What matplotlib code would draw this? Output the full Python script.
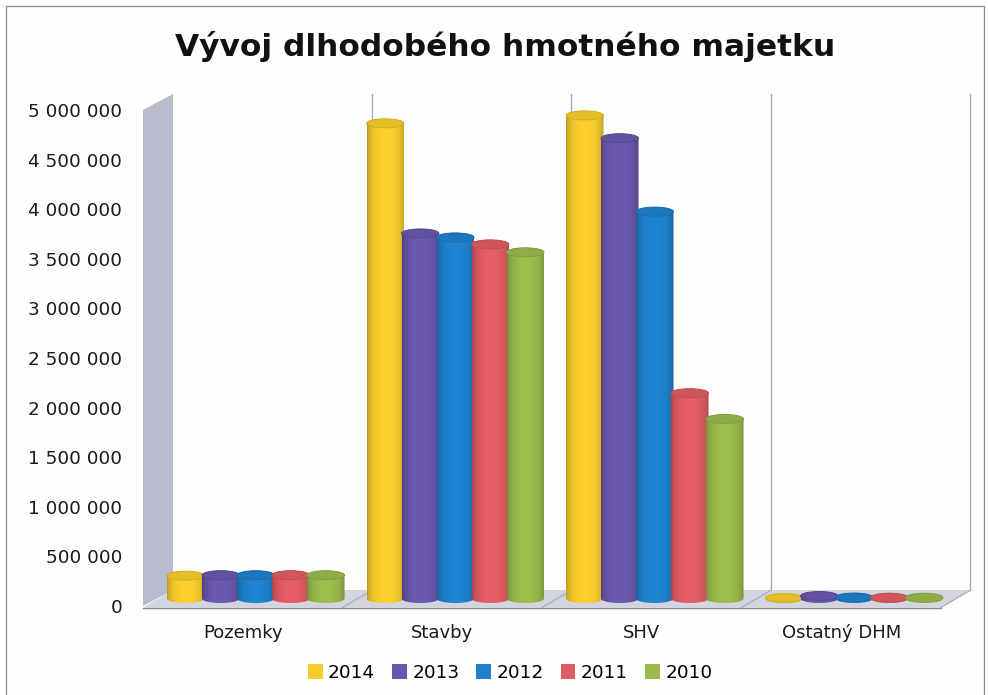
import numpy as np
import matplotlib
matplotlib.use("Agg")
import matplotlib.pyplot as plt
from matplotlib.patches import Polygon, Ellipse, Patch, Rectangle
from matplotlib.transforms import Affine2D

categories = ["Pozemky", "Stavby", "SHV", "Ostatný DHM"]
years = ["2014", "2013", "2012", "2011", "2010"]
v2014 = [230000, 4790000, 4870000, 5000]
v2013 = [235000, 3680000, 4640000, 25000]
v2012 = [235000, 3640000, 3900000, 10000]
v2011 = [235000, 3570000, 2070000, 8000]
v2010 = [235000, 3490000, 1810000, 8000]
series = [v2014, v2013, v2012, v2011, v2010]
colors = ["#F6CB2C", "#6A56AC", "#1E80CC", "#E05C62", "#9ABA4C"]
yticks = [0, 500000, 1000000, 1500000, 2000000, 2500000, 3000000, 3500000, 4000000, 4500000, 5000000]
ylabels = ["0", "500 000", "1 000 000", "1 500 000", "2 000 000", "2 500 000",
           "3 000 000", "3 500 000", "4 000 000", "4 500 000", "5 000 000"]
TITLE = "Vývoj dlhodobého hmotného majetku"

W, H = 988, 695
fig = plt.figure(figsize=(W / 100, H / 100), dpi=100, facecolor="#FEFEFE")
ax = fig.add_axes([143 / W, (H - 606) / H, 798 / W, 496 / H])
ax.set_xlim(-0.5, 3.5)
ax.set_ylim(0, 5000000)
ax.set_autoscale_on(False)
ax.patch.set_alpha(0)
for s in ax.spines.values():
    s.set_visible(False)

back = ax.transData + Affine2D().translate(30, 16)
mid = ax.transData + Affine2D().translate(13, 7.5)
front_low = ax.transData + Affine2D().translate(0, -1.5)

wallc, floorc, gridc = "#B7BBCB", "#D2D5E0", "#A0A5B5"
ax.add_patch(Polygon(
    np.vstack([ax.transData.transform([(-0.5, 0), (-0.5, 5000000)]),
               back.transform([(-0.5, 5000000), (-0.5, 0)])]),
    closed=True, transform=None, facecolor=wallc, edgecolor="none", clip_on=False, zorder=1))
ax.add_patch(Polygon(
    np.vstack([front_low.transform([(-0.5, 0), (3.5, 0)]),
               back.transform([(3.5, 0), (-0.5, 0)])]),
    closed=True, transform=None, facecolor=floorc, edgecolor="none", clip_on=False, zorder=1))
for bx in [0.5, 1.5, 2.5, 3.5]:
    ax.plot([bx - 0.004, bx - 0.004], [0, 5000000], transform=back, color=gridc, lw=0.9, clip_on=False, zorder=1.5)
    p = np.vstack([front_low.transform([(bx, 0)]), back.transform([(bx, 0)])])
    ax.plot(p[:, 0], p[:, 1], transform=None, color="#A5A9B8", lw=0.8, clip_on=False, zorder=1.5)
ax.plot([-0.5, 3.5], [0, 0], transform=front_low, color="#85878E", lw=1.0, clip_on=False, zorder=1.6)

px_x = 199.5
bw = 37.5 / px_x
pitch = 35 / px_x
eh = 9 * 5000000 / 496
t = np.linspace(0, np.pi, 40)
xg = np.linspace(-1, 1, 128)
shade = 0.72 + 0.31 * np.clip(1 - xg ** 2, 0, 1) ** 0.5
z = 3
for i, (vals, col) in enumerate(zip(series, colors)):
    rgb = np.array(matplotlib.colors.to_rgb(col))
    grad = np.clip(rgb[None, None, :] * shade[None, :, None], 0, 1)
    for c, v in enumerate(vals):
        x = c + (i - 2) * pitch
        bx = x + bw / 2 * np.cos(t)
        by = -eh / 2 * np.sin(t)
        outline = np.column_stack([np.r_[bx[::-1], bx],
                                   np.r_[by[::-1], v + eh / 2 * np.sin(t)]])
        shape = Polygon(outline, closed=True, transform=mid)
        im = ax.imshow(grad, extent=(x - bw / 2, x + bw / 2, -eh, v + eh), aspect="auto",
                       transform=mid, zorder=z, interpolation="bilinear", clip_on=True)
        im.set_clip_path(shape)
        ax.add_patch(Ellipse((x, v), bw, eh, transform=mid, facecolor=rgb * 0.93,
                             edgecolor=rgb * 0.85, lw=0.7, clip_on=False, zorder=z + 0.1))
        z += 0.2
ax.set_xlim(-0.5, 3.5)
ax.set_ylim(0, 5000000)

ax.set_xticks(range(4), categories)
ax.set_yticks(yticks, ylabels)
ax.tick_params(axis="both", length=0, labelcolor="#1A1A1A")
ax.tick_params(axis="y", pad=15, labelsize=13.2)
ax.tick_params(axis="x", pad=13, labelsize=13)

fig.text(505 / W, 1 - 46 / H, TITLE, ha="center", va="center", fontsize=22.5,
         fontweight="bold", color="#111111")

handles = [Patch(facecolor=c, label=y) for c, y in zip(colors, years)]
fig.legend(handles=handles, loc="center", bbox_to_anchor=(510 / W, 1 - 673 / H), ncol=5,
           frameon=False, handlelength=0.81, handleheight=0.81, handletextpad=0.3,
           columnspacing=0.9, prop={"size": 13.3})

fig.add_artist(Rectangle((6 / W, -0.02), 978 / W, 1.02 - 6 / H, transform=fig.transFigure,
                         facecolor="none", edgecolor="#8A8A8A", lw=0.9))
fig.savefig("out.png", dpi=100, facecolor=fig.get_facecolor())
